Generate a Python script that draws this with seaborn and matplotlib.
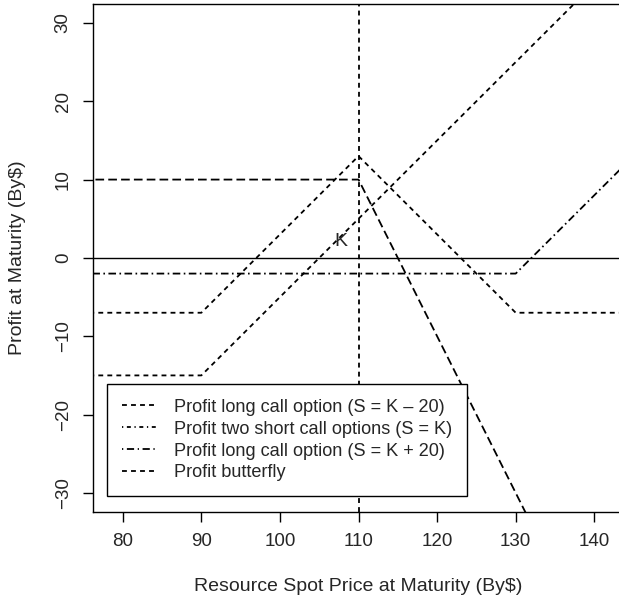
import matplotlib
matplotlib.use("Agg")
import matplotlib.pyplot as plt
import seaborn as sns
from matplotlib.lines import Line2D

# kink points of each payoff line (spot price at maturity)
price = [70, 90, 110, 130, 150]
long_call_low = [-15, -15, 5, 25, 45]
two_short_calls = [10, 10, 10, -30, -70]
long_call_high = [-2, -2, -2, -2, 18]
butterfly = [-7, -7, 13, -7, -7]

strike = 110
legend_labels = [
    "Profit long call option (S = K \u2013 20)",
    "Profit two short call options (S = K)",
    "Profit long call option (S = K + 20)",
    "Profit butterfly",
]

sns.set_style("ticks")
plt.rcParams["font.family"] = ["Liberation Sans", "DejaVu Sans"]

fig = plt.figure(figsize=(6.19, 6.05), dpi=100)
ax = fig.add_axes([0.1507, 0.1542, 0.857, 0.839])

lw = 1.3
dashed = (0, (2.7, 2.3))
longdash = (0, (4.8, 2.3))
dotdash = (0, (4.2, 1.9, 0.9, 1.9))

sns.lineplot(x=price, y=long_call_low, ax=ax, color="black", lw=lw, linestyle=dashed)
sns.lineplot(x=price, y=two_short_calls, ax=ax, color="black", lw=lw, linestyle=longdash)
sns.lineplot(x=price, y=long_call_high, ax=ax, color="black", lw=lw, linestyle=dotdash)
sns.lineplot(x=price, y=butterfly, ax=ax, color="black", lw=lw, linestyle=dashed)

ax.axhline(0, color="black", lw=1.0)
ax.axvline(strike, color="black", lw=lw, linestyle=dashed)
ax.text(107.8, 2.1, "K", fontsize=14, ha="center", va="center")

ax.set_xlim(76.25, 143.75)
ax.set_ylim(-32.4, 32.4)
ax.set_xticks([80, 90, 100, 110, 120, 130, 140])
ax.set_yticks([-30, -20, -10, 0, 10, 20, 30])
ax.tick_params(axis="both", labelsize=13.5, length=7.5, width=1.0, pad=8, color="black")
for lab in ax.get_yticklabels():
    lab.set_rotation(90)
    lab.set_va("center")
for s in ax.spines.values():
    s.set_linewidth(1.0)
    s.set_color("black")

ax.set_xlabel("Resource Spot Price at Maturity (By$)", fontsize=14, labelpad=20)
ax.set_ylabel("Profit at Maturity (By$)", fontsize=14, labelpad=21)

handles = [
    Line2D([], [], color="black", lw=lw, linestyle=dashed),
    Line2D([], [], color="black", lw=lw, linestyle=(0, (0.7, 2.0, 2.2, 2.0))),
    Line2D([], [], color="black", lw=lw, linestyle=(0, (0.7, 2.0, 4.0, 2.0))),
    Line2D([], [], color="black", lw=lw, linestyle=dashed),
]
leg = ax.legend(handles, legend_labels, loc="lower left", bbox_to_anchor=(0.026, 0.031),
                borderaxespad=0, fontsize=13.1, frameon=True, fancybox=False,
                edgecolor="black", framealpha=1, handlelength=1.9, handletextpad=1.0,
                labelspacing=0.27, borderpad=0.8)
leg.get_frame().set_linewidth(1.0)

plt.savefig("out.png", dpi=100)
